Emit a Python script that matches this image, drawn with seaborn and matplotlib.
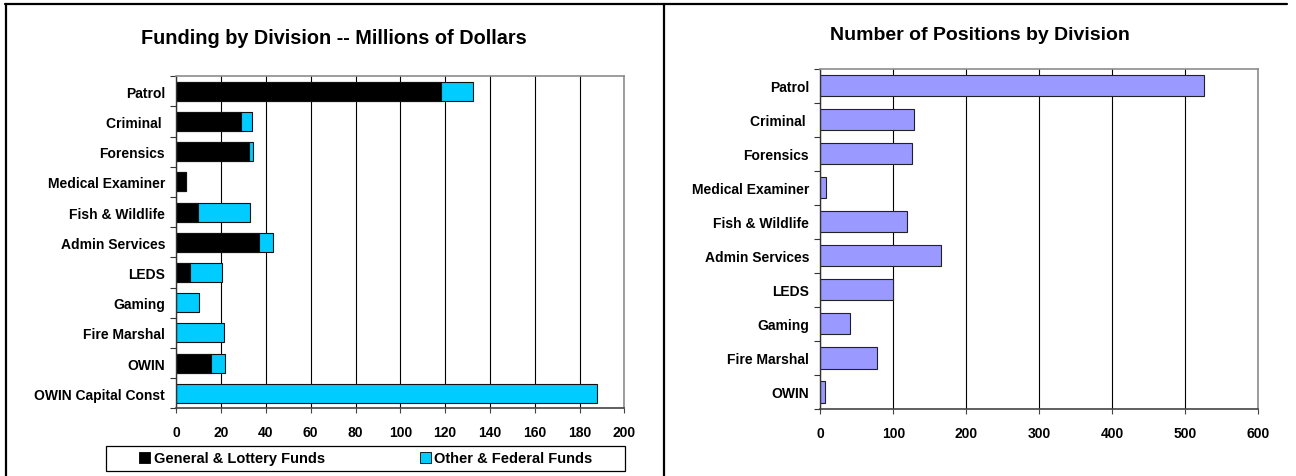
import numpy as np
import matplotlib
matplotlib.use("Agg")
import matplotlib.pyplot as plt
from matplotlib.patches import Patch, Rectangle
from matplotlib.lines import Line2D
from matplotlib.ticker import FixedLocator
import seaborn as sns

# ---- data -------------------------------------------------------------
fund_divisions = ["Patrol", "Criminal ", "Forensics", "Medical Examiner",
                  "Fish & Wildlife", "Admin Services", "LEDS", "Gaming",
                  "Fire Marshal", "OWIN", "OWIN Capital Const"]
general_lottery = [118.1, 29.0, 32.4, 4.3, 9.8, 37.1, 6.0, 0.0, 0.0, 15.4, 0.0]
other_federal = [14.3, 4.9, 1.7, 0.0, 23.2, 6.2, 14.2, 10.0, 21.3, 6.3, 187.8]
funding_ticks = [0, 20, 40, 60, 80, 100, 120, 140, 160, 180, 200]

position_divisions = ["Patrol", "Criminal ", "Forensics", "Medical Examiner",
                      "Fish & Wildlife", "Admin Services", "LEDS", "Gaming",
                      "Fire Marshal", "OWIN"]
positions = [525, 128, 126, 8, 119, 166, 100, 41, 77, 7]
position_ticks = [0, 100, 200, 300, 400, 500, 600]

legend_labels = ["General & Lottery Funds", "Other & Federal Funds"]

# ---- style ------------------------------------------------------------
sns.set_style("white")
plt.rcParams["font.family"] = ["Liberation Sans", "DejaVu Sans"]
plt.rcParams["font.weight"] = "bold"
plt.rcParams["text.color"] = "black"
plt.rcParams["axes.labelcolor"] = "black"
plt.rcParams["xtick.color"] = "black"
plt.rcParams["ytick.color"] = "black"

BLACK = "#000000"
CYAN = "#00CCFF"
LAVENDER = "#9999FF"

W, H = 1296, 477
fig = plt.figure(figsize=(W / 100, H / 100), dpi=100)
fig.patch.set_facecolor("white")


def fx(px):
    return px / W


def fy(py):
    return 1 - py / H


def style_axes(ax, ticks, n):
    ax.set_xlim(ticks[0], ticks[-1])
    ax.set_xticks(ticks)
    ax.set_xticklabels([str(t) for t in ticks], fontsize=10, fontweight="bold")
    ax.set_ylim(n - 0.5, -0.5)
    ax.yaxis.set_minor_locator(FixedLocator(np.arange(-0.5, n, 1.0)))
    ax.tick_params(axis="y", which="major", length=0, pad=8, labelsize=10,
                   labelcolor="black")
    ax.tick_params(axis="y", which="minor", length=4, width=0.8,
                   color="#333333", direction="out", left=True)
    ax.tick_params(axis="x", which="major", length=3.5, width=0.8,
                   color="#444444", labelcolor="black", direction="out",
                   bottom=True, pad=8.5)
    for lab in ax.get_yticklabels():
        lab.set_fontweight("bold")
    ax.set_xlabel("")
    ax.set_ylabel("")
    ax.set_axisbelow(True)
    ax.xaxis.grid(True, color=BLACK, linewidth=0.8)
    ax.yaxis.grid(False)
    for side in ("left", "bottom", "top", "right"):
        ax.spines[side].set_visible(True)
        ax.spines[side].set_zorder(3)
    ax.spines["left"].set_color("#333333")
    ax.spines["left"].set_linewidth(1.0)
    ax.spines["bottom"].set_color("#444444")
    ax.spines["bottom"].set_linewidth(1.2)
    ax.spines["top"].set_color("#8c8c8c")
    ax.spines["top"].set_linewidth(1.2)
    ax.spines["right"].set_color("#8c8c8c")
    ax.spines["right"].set_linewidth(1.2)


# ---- left: funding, stacked horizontal bars ----------------------------
ax1 = fig.add_axes([fx(176.3), fy(409.3), fx(624.3 - 176.3), (409.3 - 77.3) / H])
totals = [g + o for g, o in zip(general_lottery, other_federal)]
sns.barplot(x=totals, y=fund_divisions, orient="h", color=CYAN, saturation=1,
            width=0.63, edgecolor="#111111", linewidth=0.8, ax=ax1, zorder=2)
sns.barplot(x=general_lottery, y=fund_divisions, orient="h", color=BLACK,
            saturation=1, width=0.63, edgecolor="#111111", linewidth=0.8,
            ax=ax1, zorder=2)
style_axes(ax1, funding_ticks, len(fund_divisions))

# ---- right: positions -------------------------------------------------
ax2 = fig.add_axes([fx(820.3), fy(410), fx(1258.3 - 820.3), (410 - 69.7) / H])
sns.barplot(x=positions, y=position_divisions, orient="h", color=LAVENDER,
            saturation=1, width=0.62, edgecolor="#222222", linewidth=0.8,
            ax=ax2, zorder=2)
style_axes(ax2, position_ticks, len(position_divisions))

# ---- titles -----------------------------------------------------------
fig.text(fx(334), fy(39), "Funding by Division -- Millions of Dollars",
         ha="center", va="center", fontsize=14.3, fontweight="bold")
fig.text(fx(980), fy(35), "Number of Positions by Division",
         ha="center", va="center", fontsize=14, fontweight="bold")

# ---- legend with its own box -----------------------------------------
handles = [Patch(facecolor=BLACK, edgecolor=BLACK, linewidth=0.6),
           Patch(facecolor=CYAN, edgecolor=BLACK, linewidth=0.6)]
fig.legend(handles, legend_labels, loc="center",
           bbox_to_anchor=(fx(366), fy(459.5)), ncol=2, frameon=False,
           handlelength=0.75, handleheight=0.75, handletextpad=0.25,
           columnspacing=6.5, prop={"size": 10.5, "weight": "bold"},
           borderpad=0, borderaxespad=0)
fig.add_artist(Rectangle((fx(106), fy(472)), fx(625 - 106), (472 - 447) / H,
                         transform=fig.transFigure, fill=False,
                         edgecolor=BLACK, linewidth=0.9))

# ---- page frame -------------------------------------------------------
frame_kw = dict(transform=fig.transFigure, color=BLACK, linewidth=1.6)
fig.add_artist(Line2D([fx(5), fx(1287)], [fy(5), fy(5)], **frame_kw))
fig.add_artist(Line2D([fx(6), fx(6)], [fy(5), 0], **frame_kw))
fig.add_artist(Line2D([fx(664), fx(664)], [fy(5), 0], **frame_kw))

fig.savefig("out.png", dpi=100)
